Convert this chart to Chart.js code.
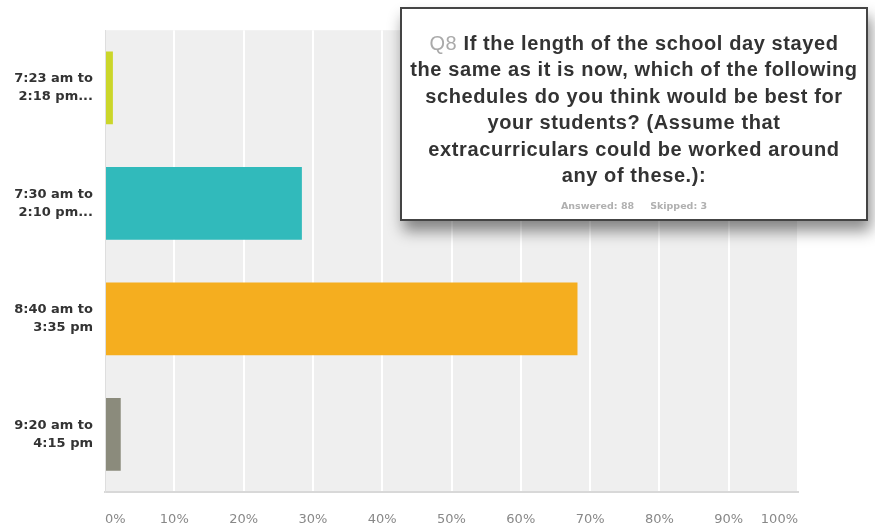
<!DOCTYPE html>
<html>
<head>
<meta charset="utf-8">
<script src="https://cdn.jsdelivr.net/npm/chart.js@4"></script>
<style>
  body { margin: 0; background: #fff; }
  #wrap { position: relative; width: 875px; height: 527px; }
  #q8 {
    position: absolute; left: 400px; top: 7px; width: 468px; height: 214px;
    box-sizing: border-box; border: 2px solid #444; background: #fff;
    box-shadow: 3px 10px 14px rgba(0,0,0,0.45);
    font-family: "Liberation Sans", Arial, sans-serif; text-align: center;
  }
  #q8 .q { font-weight: bold; font-size: 20px; letter-spacing: 0.6px; line-height: 26.4px; color: #333; margin-top: 21px; white-space: nowrap; }
  #q8 .num { color: #aaa; font-weight: normal; }
  #q8 .meta { font-family: "DejaVu Sans", sans-serif; font-size: 9.5px; font-weight: bold; color: #b0b0b0; margin-top: 12px; }
  #q8 .meta span { margin: 0 8px; }
</style>
</head>
<body>
<div id="wrap">
  <canvas id="q8Chart" width="875" height="527"></canvas>
  <div id="q8">
    <div class="q"><span class="num">Q8</span> If the length of the school day stayed<br>the same as it is now, which of the following<br>schedules do you think would be best for<br>your students? (Assume that<br>extracurriculars could be worked around<br>any of these.):</div>
    <div class="meta"><span>Answered: 88</span><span>Skipped: 3</span></div>
  </div>
</div>
<script>
// answer options and share of responses (%)
const schedules = [
  ["7:23 am to", "2:18 pm..."],
  ["7:30 am to", "2:10 pm..."],
  ["8:40 am to", "3:35 pm"],
  ["9:20 am to", "4:15 pm"]
];
const percents = [1.14, 28.41, 68.18, 2.27];
const barColors = ["#cbd62a", "#31babb", "#f5ae1f", "#8b8b7c"];
const xTicks = [0, 10, 20, 30, 40, 50, 60, 70, 80, 90, 100];

// grey plot background behind the bars
const plotBg = {
  id: "plotBg",
  beforeDraw(chart) {
    const { ctx, chartArea: a } = chart;
    ctx.save();
    ctx.fillStyle = "#efefef";
    ctx.fillRect(a.left, a.top, a.right - a.left, a.bottom - a.top);
    ctx.restore();
  }
};

const ctx = document.getElementById("q8Chart").getContext("2d");
new Chart(ctx, {
  type: "bar",
  data: {
    labels: schedules,
    datasets: [{
      data: percents,
      backgroundColor: barColors,
      barPercentage: 0.63,
      categoryPercentage: 1
    }]
  },
  options: {
    indexAxis: "y",
    responsive: false,
    animation: false,
    layout: { padding: { top: 29, right: 77, left: 0, bottom: 0 } },
    scales: {
      x: {
        min: 0,
        max: 100,
        afterBuildTicks(axis) { axis.ticks = xTicks.map(v => ({ value: v })); },
        afterFit(axis) { axis.height = 35; },
        grid: { color: "#ffffff", lineWidth: 2, drawTicks: false },
        border: { color: "#d8d8d8", width: 2 },
        ticks: {
          callback: v => v + "%",
          align: "inner",
          padding: 20,
          color: "#888",
          font: { family: "'DejaVu Sans', Verdana, sans-serif", size: 13 }
        }
      },
      y: {
        afterFit(axis) { axis.width = 105; },
        grid: { display: false, drawTicks: false },
        border: { color: "#dedede", width: 1 },
        ticks: {
          padding: 12,
          color: "#333",
          font: { family: "'DejaVu Sans', Verdana, sans-serif", size: 13, weight: "bold", lineHeight: 1.4 }
        }
      }
    },
    plugins: {
      legend: { display: false },
      tooltip: { enabled: false }
    }
  },
  plugins: [plotBg]
});
</script>
</body>
</html>
